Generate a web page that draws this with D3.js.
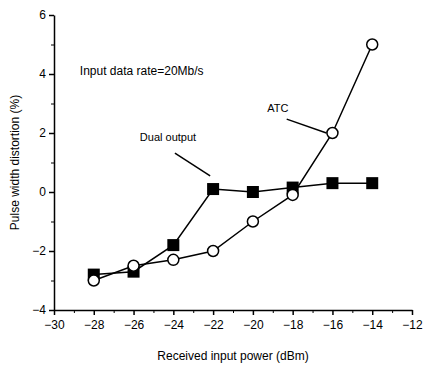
<!DOCTYPE html>
<html>
<head>
<meta charset="utf-8">
<script src="https://cdn.jsdelivr.net/npm/d3@7"></script>
<style>
body { margin: 0; background: #fff; }
text { font-family: "Liberation Sans", Arial, sans-serif; fill: #000; }
</style>
</head>
<body>
<div id="root"></div>
<script>
// DATA
const power = [-28, -26, -24, -22, -20, -18, -16, -14];
const dualOutput = [-2.8, -2.7, -1.8, 0.1, 0.0, 0.15, 0.3, 0.3];
const atc = [-3.0, -2.5, -2.3, -2.0, -1.0, -0.1, 2.0, 5.0];
const xTicks = [-30, -28, -26, -24, -22, -20, -18, -16, -14, -12];
const yTicks = [-4, -2, 0, 2, 4, 6];

// DIMENSIONS
const width = 423, height = 367;
const margin = {top: 15, right: 11, bottom: 57, left: 54};

const svg = d3.select('#root')
  .append('svg')
  .attr('width', width)
  .attr('height', height);

const g = svg.append('g')
  .attr('transform', `translate(${margin.left},${margin.top})`);

const w = width - margin.left - margin.right;
const h = height - margin.top - margin.bottom;

// SCALES
const x = d3.scaleLinear().domain([-30, -12]).range([0, w]);
const y = d3.scaleLinear().domain([-4, 6]).range([h, 0]);

// MINOR TICKS
const xMinor = d3.range(-29, -12, 2);
const yMinor = d3.range(-3, 6, 2);

g.append('g')
  .attr('transform', `translate(0,${h})`)
  .call(d3.axisBottom(x).tickValues(xMinor).tickSize(3).tickFormat(''))
  .call(a => a.select('.domain').remove());

g.append('g')
  .call(d3.axisLeft(y).tickValues(yMinor).tickSize(3).tickFormat(''))
  .call(a => a.select('.domain').remove());

// AXES
const xAxis = g.append('g')
  .attr('transform', `translate(0,${h})`)
  .call(d3.axisBottom(x).tickValues(xTicks).tickSize(5).tickSizeOuter(0).tickPadding(5));

const yAxis = g.append('g')
  .call(d3.axisLeft(y).tickValues(yTicks).tickSize(5).tickSizeOuter(0).tickPadding(3));

[xAxis, yAxis].forEach(a => {
  a.selectAll('text').style('font-size', '12px').attr('fill', '#000');
  a.selectAll('line, path').attr('stroke', '#000').attr('stroke-width', 1.5);
});

// LINES
const line = d3.line()
  .x((d, i) => x(power[i]))
  .y(d => y(d));

g.append('path')
  .datum(atc)
  .attr('fill', 'none')
  .attr('stroke', '#000')
  .attr('stroke-width', 1.5)
  .attr('d', line);

g.append('path')
  .datum(dualOutput)
  .attr('fill', 'none')
  .attr('stroke', '#000')
  .attr('stroke-width', 1.5)
  .attr('d', line);

// MARKERS
g.selectAll('.sq')
  .data(dualOutput)
  .join('rect')
  .attr('x', (d, i) => x(power[i]) - 6)
  .attr('y', d => y(d) - 6)
  .attr('width', 12)
  .attr('height', 12)
  .attr('fill', '#000');

g.selectAll('.circ')
  .data(atc)
  .join('circle')
  .attr('cx', (d, i) => x(power[i]))
  .attr('cy', d => y(d))
  .attr('r', 5.5)
  .attr('fill', '#fff')
  .attr('stroke', '#000')
  .attr('stroke-width', 1.5);

// ANNOTATIONS
g.append('text')
  .attr('x', x(-28.7))
  .attr('y', y(3.95))
  .style('font-size', '12px')
  .text('Input data rate=20Mb/s');

g.append('text')
  .attr('x', x(-18.74))
  .attr('y', y(2.72))
  .attr('text-anchor', 'middle')
  .style('font-size', '11px')
  .text('ATC');

g.append('line')
  .attr('x1', x(-18.3)).attr('y1', y(2.47))
  .attr('x2', x(-16.3)).attr('y2', y(2.0))
  .attr('stroke', '#000').attr('stroke-width', 1.5);

g.append('text')
  .attr('x', x(-24.27))
  .attr('y', y(1.72))
  .attr('text-anchor', 'middle')
  .style('font-size', '11px')
  .text('Dual output');

g.append('line')
  .attr('x1', x(-23.92)).attr('y1', y(1.32))
  .attr('x2', x(-22.15)).attr('y2', y(0.55))
  .attr('stroke', '#000').attr('stroke-width', 1.5);

// AXIS TITLES
svg.append('text')
  .attr('x', margin.left + w / 2)
  .attr('y', 360)
  .attr('text-anchor', 'middle')
  .style('font-size', '12px')
  .text('Received input power (dBm)');

svg.append('text')
  .attr('transform', `translate(19,${margin.top + h / 2}) rotate(-90)`)
  .attr('text-anchor', 'middle')
  .style('font-size', '12px')
  .text('Pulse width distortion (%)');
</script>
</body>
</html>
